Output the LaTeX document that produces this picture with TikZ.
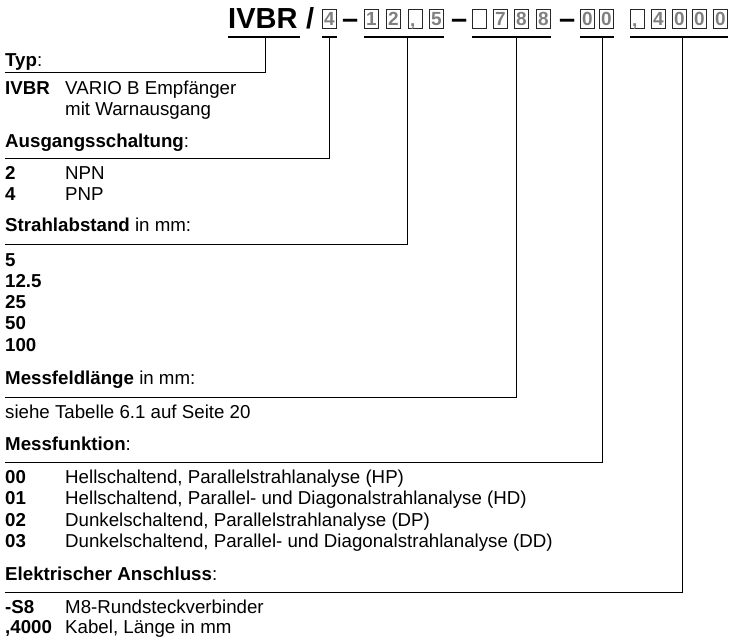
\documentclass[tikz,border=0pt]{standalone}
\usepackage{fontspec}
\setmainfont{Liberation Sans}
\begin{document}
\begin{tikzpicture}[x=1pt,y=-1pt,
  txt/.style={anchor=base west,inner sep=0pt,font=\fontsize{18.7}{22}\selectfont},
  title/.style={anchor=base west,inner sep=0pt,font=\fontsize{29}{29}\selectfont\bfseries},
  digbox/.style={draw=black!85,line width=1pt,minimum width=14pt,minimum height=19pt,anchor=north west,inner sep=0pt,text=black!50,font=\fontsize{19}{19}\selectfont\bfseries},
  comma/.style={anchor=base west,inner sep=0pt,text=black!50,font=\fontsize{19}{19}\selectfont\bfseries},
  grpline/.style={line width=1.8pt},
  conn/.style={line width=1pt}]
\useasboundingbox (0,0) rectangle (733,638);

% ---- title code ----
\node[title] (ivbr) at (228,28) {IVBR};
\node[title] (slash) at (306,28) {/};
\node[digbox] (a1) at (322,9) {4};
\node[title] (d1) at (342,28) {–};
\node[digbox] (b1) at (364,9) {1};
\node[digbox] (b2) at (386,9) {2};
\node[digbox] (b3) at (408,9) {};
\node[comma] (b3c) at ([xshift=2pt,yshift=3pt]b3.south west) {,};
\node[digbox] (b4) at (429,9) {5};
\node[title] (d2) at (451,28) {–};
\node[digbox] (c1) at (472,9) {};
\node[digbox] (c2) at (493,9) {7};
\node[digbox] (c3) at (514,9) {8};
\node[digbox] (c4) at (536,9) {8};
\node[title] (d3) at (559,28) {–};
\node[digbox] (e1) at (580,9) {0};
\node[digbox] (e2) at (599,9) {0};
\node[digbox] (f1) at (630,9) {};
\node[comma] (f1c) at ([xshift=2pt,yshift=3pt]f1.south west) {,};
\node[digbox] (f2) at (651,9) {4};
\node[digbox] (f3) at (672,9) {0};
\node[digbox] (f4) at (692,9) {0};
\node[digbox] (f5) at (713,9) {0};

% ---- group underlines ----
\draw[grpline] (228,37) -- (300,37);
\draw[grpline] (a1.west |- 0,37) -- (a1.east |- 0,37);
\draw[grpline] (b1.west |- 0,37) -- (b4.east |- 0,37);
\draw[grpline] (c1.west |- 0,37) -- (c4.east |- 0,37);
\draw[grpline] (e1.west |- 0,37) -- (e2.east |- 0,37);
\draw[grpline] (f1.west |- 0,37) -- (f5.east |- 0,37);

% ---- tick tops and line ends ----
\coordinate (t1) at (265,37);
\coordinate (t2) at (329,37);
\coordinate (t3) at (407,37);
\coordinate (t4) at (516,37);
\coordinate (t5) at (602,37);
\coordinate (t6) at (682,37);
\coordinate (l1) at (5,72);
\coordinate (l2) at (5,158);
\coordinate (l3) at (5,244);
\coordinate (l4) at (5,397);
\coordinate (l5) at (5,462);
\coordinate (l6) at (5,592);
\draw[conn] (t1) -- (t1 |- l1) -- (l1);
\draw[conn] (t2) -- (t2 |- l2) -- (l2);
\draw[conn] (t3) -- (t3 |- l3) -- (l3);
\draw[conn] (t4) -- (t4 |- l4) -- (l4);
\draw[conn] (t5) -- (t5 |- l5) -- (l5);
\draw[conn] (t6) -- (t6 |- l6) -- (l6);

% ---- Typ ----
\node[txt] (h1) at (5,66) {\textbf{Typ}:};
\node[txt] (k11) at (5,94) {\textbf{IVBR}};
\node[txt] (v11) at (65,94) {VARIO B Empfänger};
\node[txt] (v12) at (65,115.5) {mit Warnausgang};

% ---- Ausgangsschaltung ----
\node[txt] (h2) at (5,147) {\textbf{Ausgangsschaltung}:};
\node[txt] (k21) at (5,179.5) {\textbf{2}};
\node[txt] (v21) at (65,179.5) {NPN};
\node[txt] (k22) at (5,200.8) {\textbf{4}};
\node[txt] (v22) at (65,200.8) {PNP};

% ---- Strahlabstand ----
\node[txt] (h3) at (5,231) {\textbf{Strahlabstand} in mm:};
\node[txt] (k31) at (5,266) {\textbf{5}};
\node[txt] (k32) at (5,287.3) {\textbf{12.5}};
\node[txt] (k33) at (5,308.6) {\textbf{25}};
\node[txt] (k34) at (5,329.9) {\textbf{50}};
\node[txt] (k35) at (5,351.2) {\textbf{100}};

% ---- Messfeldlaenge ----
\node[txt] (h4) at (5,384) {\textbf{Messfeldlänge} in mm:};
\node[txt] (v41) at (5,418.5) {siehe Tabelle 6.1 auf Seite 20};

% ---- Messfunktion ----
\node[txt] (h5) at (5,450) {\textbf{Messfunktion}:};
\node[txt] (k51) at (5,483) {\textbf{00}};
\node[txt] (v51) at (65,483) {Hellschaltend, Parallelstrahlanalyse (HP)};
\node[txt] (k52) at (5,504.6) {\textbf{01}};
\node[txt] (v52) at (65,504.6) {Hellschaltend, Parallel- und Diagonalstrahlanalyse (HD)};
\node[txt] (k53) at (5,526.2) {\textbf{02}};
\node[txt] (v53) at (65,526.2) {Dunkelschaltend, Parallelstrahlanalyse (DP)};
\node[txt] (k54) at (5,547.8) {\textbf{03}};
\node[txt] (v54) at (65,547.8) {Dunkelschaltend, Parallel- und Diagonalstrahlanalyse (DD)};

% ---- Elektrischer Anschluss ----
\node[txt] (h6) at (5,580) {\textbf{Elektrischer Anschluss}:};
\node[txt] (k61) at (5,613) {\textbf{-S8}};
\node[txt] (v61) at (65,613) {M8-Rundsteckverbinder};
\node[txt] (k62) at (5,633.5) {\textbf{,4000}};
\node[txt] (v62) at (65,633.5) {Kabel, Länge in mm};
\end{tikzpicture}
\end{document}
